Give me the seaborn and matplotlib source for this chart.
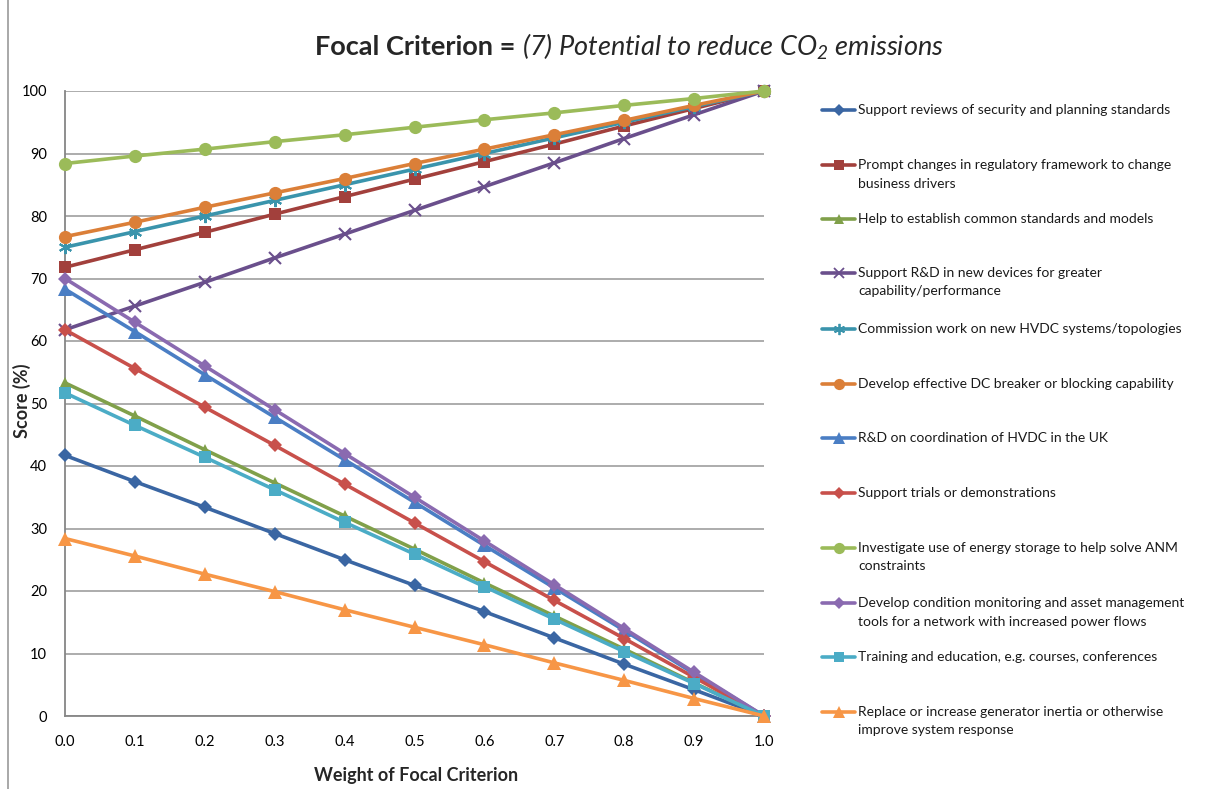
import numpy as np
import pandas as pd
import seaborn as sns
import matplotlib
matplotlib.use("Agg")
import matplotlib.pyplot as plt
from matplotlib.lines import Line2D

# ---- data -------------------------------------------------------------
weights = [0.0, 0.1, 0.2, 0.3, 0.4, 0.5, 0.6, 0.7, 0.8, 0.9, 1.0]

labels = [
    "Support reviews of security and planning standards",
    "Prompt changes in regulatory framework to change\nbusiness drivers",
    "Help to establish common standards and models",
    "Support R&D in new devices for greater\ncapability/performance",
    "Commission work on new HVDC systems/topologies",
    "Develop effective DC breaker or blocking capability",
    "R&D on coordination of HVDC in the UK",
    "Support trials or demonstrations",
    "Investigate use of energy storage to help solve ANM\nconstraints",
    "Develop condition monitoring and asset management\ntools for a network with increased power flows",
    "Training and education, e.g. courses, conferences",
    "Replace or increase generator inertia or otherwise\nimprove system response",
]

support_reviews = [41.7, 37.5, 33.4, 29.2, 25.0, 20.9, 16.7, 12.5, 8.3, 4.2, 0.0]
prompt_changes = [71.8, 74.6, 77.4, 80.3, 83.1, 85.9, 88.7, 91.5, 94.4, 97.2, 100.0]
common_standards = [53.3, 48.0, 42.6, 37.3, 32.0, 26.7, 21.3, 16.0, 10.7, 5.3, 0.0]
rd_devices = [61.8, 65.6, 69.4, 73.3, 77.1, 80.9, 84.7, 88.5, 92.4, 96.2, 100.0]
hvdc_topologies = [75.0, 77.5, 80.0, 82.5, 85.0, 87.5, 90.0, 92.5, 95.0, 97.5, 100.0]
dc_breaker = [76.7, 79.0, 81.4, 83.7, 86.0, 88.4, 90.7, 93.0, 95.3, 97.7, 100.0]
rd_coordination = [68.3, 61.5, 54.6, 47.8, 41.0, 34.2, 27.3, 20.5, 13.7, 6.8, 0.0]
trials = [61.8, 55.6, 49.4, 43.3, 37.1, 30.9, 24.7, 18.5, 12.4, 6.2, 0.0]
energy_storage = [88.4, 89.6, 90.7, 91.9, 93.0, 94.2, 95.4, 96.5, 97.7, 98.8, 100.0]
condition_monitoring = [70.0, 63.0, 56.0, 49.0, 42.0, 35.0, 28.0, 21.0, 14.0, 7.0, 0.0]
training = [51.7, 46.5, 41.4, 36.2, 31.0, 25.9, 20.7, 15.5, 10.3, 5.2, 0.0]
generator_inertia = [28.4, 25.6, 22.7, 19.9, 17.0, 14.2, 11.4, 8.5, 5.7, 2.8, 0.0]

series = [support_reviews, prompt_changes, common_standards, rd_devices,
          hvdc_topologies, dc_breaker, rd_coordination, trials,
          energy_storage, condition_monitoring, training, generator_inertia]

x_ticks = [0.0, 0.1, 0.2, 0.3, 0.4, 0.5, 0.6, 0.7, 0.8, 0.9, 1.0]
y_ticks = [0, 10, 20, 30, 40, 50, 60, 70, 80, 90, 100]

# ---- styles -----------------------------------------------------------
colors = ["#3A66A3", "#A2403C", "#80A04A", "#6A4F8C", "#3A94AC", "#DB7F38",
          "#4A7EC4", "#C8504B", "#9BBB59", "#8A6AB0", "#4BACC6", "#F79646"]
markers = ["D", "s", "^", "x", (6, 2, 0), "o", "^", "D", "o", "D", "s", "^"]
msizes = [7, 8.5, 8.5, 8.5, 9.5, 9.5, 9.5, 7, 9.5, 7, 9, 9.5]

sns.set_theme(style="white")
plt.rcParams["font.family"] = ["Lato", "DejaVu Sans"]
plt.rcParams["mathtext.fontset"] = "custom"
plt.rcParams["mathtext.rm"] = "Lato:italic"
plt.rcParams["mathtext.it"] = "Lato:italic"
plt.rcParams["mathtext.bf"] = "Lato:bold"

W, H = 1208, 789
fig = plt.figure(figsize=(W / 100, H / 100), dpi=100)


def fx(px):
    return px / W


def fy(py):
    return 1 - py / H


ax = fig.add_axes([fx(65), fy(716), fx(764) - fx(65), fy(91) - fy(716)])

long = pd.DataFrame({
    "weight": np.tile(weights, len(series)),
    "score": np.concatenate(series),
    "criterion": np.repeat(np.arange(len(series)), len(weights)),
})

for i in range(len(series)):
    sub = long[long["criterion"] == i]
    mk = markers[i]
    line_only = mk == "x" or isinstance(mk, tuple)
    sns.lineplot(data=sub, x="weight", y="score", ax=ax, color=colors[i],
                 linewidth=2.6, marker=mk, markersize=msizes[i],
                 markeredgewidth=1.5 if line_only else 0,
                 markeredgecolor=colors[i], clip_on=False, zorder=3 + i,
                 legend=False)

ax.set_xlim(0, 1)
ax.set_ylim(0, 100)
ax.set_xticks(x_ticks)
ax.set_xticklabels([f"{t:.1f}" for t in x_ticks])
ax.set_yticks(y_ticks)
ax.yaxis.grid(True, color="#A6A6A6", linewidth=1.3)
ax.xaxis.grid(False)
for side in ["top", "right"]:
    ax.spines[side].set_visible(False)
for side in ["left", "bottom"]:
    ax.spines[side].set_color("#868686")
    ax.spines[side].set_linewidth(1.3)
ax.tick_params(axis="both", direction="out", length=5, width=1.2,
               color="#868686", labelsize=10.5, labelcolor="#000000")
ax.tick_params(axis="x", pad=9)
ax.tick_params(axis="y", pad=8)
ax.set_xlabel("")
ax.set_ylabel("")

fig.text(fx(416), fy(776), "Weight of Focal Criterion", ha="center",
         va="center", fontsize=13, fontweight="bold")
fig.text(fx(22), fy(401), "Score (%)", ha="center", va="center",
         rotation=90, fontsize=13, fontweight="bold")

# title: bold lead-in followed by an italic description
renderer = fig.canvas.get_renderer()
t_bold = fig.text(0, fy(47), "Focal Criterion = ", ha="left", va="center",
                  fontsize=19.5, fontweight="bold")
t_it = fig.text(0, fy(47), r"(7) Potential to reduce CO$_2$ emissions",
                ha="left", va="center", fontsize=19.5, fontstyle="italic")
wb = t_bold.get_window_extent(renderer).width
wi = t_it.get_window_extent(renderer).width
x0 = 629 - (wb + wi) / 2
t_bold.set_x(fx(x0))
t_it.set_x(fx(x0 + wb))

# chart-area border on the left
fig.add_artist(Line2D([fx(8), fx(8)], [0, 1], color="#9A9A9A", linewidth=1.2))

# legend, one row per criterion
legend_y = [110, 165, 219, 273, 329, 384, 438, 493, 548, 603, 657, 712]
for i, lab in enumerate(labels):
    y = legend_y[i]
    mk = markers[i]
    line_only = mk == "x" or isinstance(mk, tuple)
    fig.add_artist(Line2D([fx(822), fx(855)], [fy(y), fy(y)],
                          color=colors[i], linewidth=2.6))
    fig.add_artist(Line2D([fx(838.5)], [fy(y)], color=colors[i], marker=mk,
                          markersize=msizes[i] * 0.85,
                          markeredgewidth=1.3 if line_only else 0,
                          markeredgecolor=colors[i], linestyle="none"))
    for j, part in enumerate(lab.split("\n")):
        fig.text(fx(858), fy(y + j * 18.5), part, ha="left", va="center",
                 fontsize=10, color="#1A1A1A")

fig.savefig("out.png", dpi=100)
